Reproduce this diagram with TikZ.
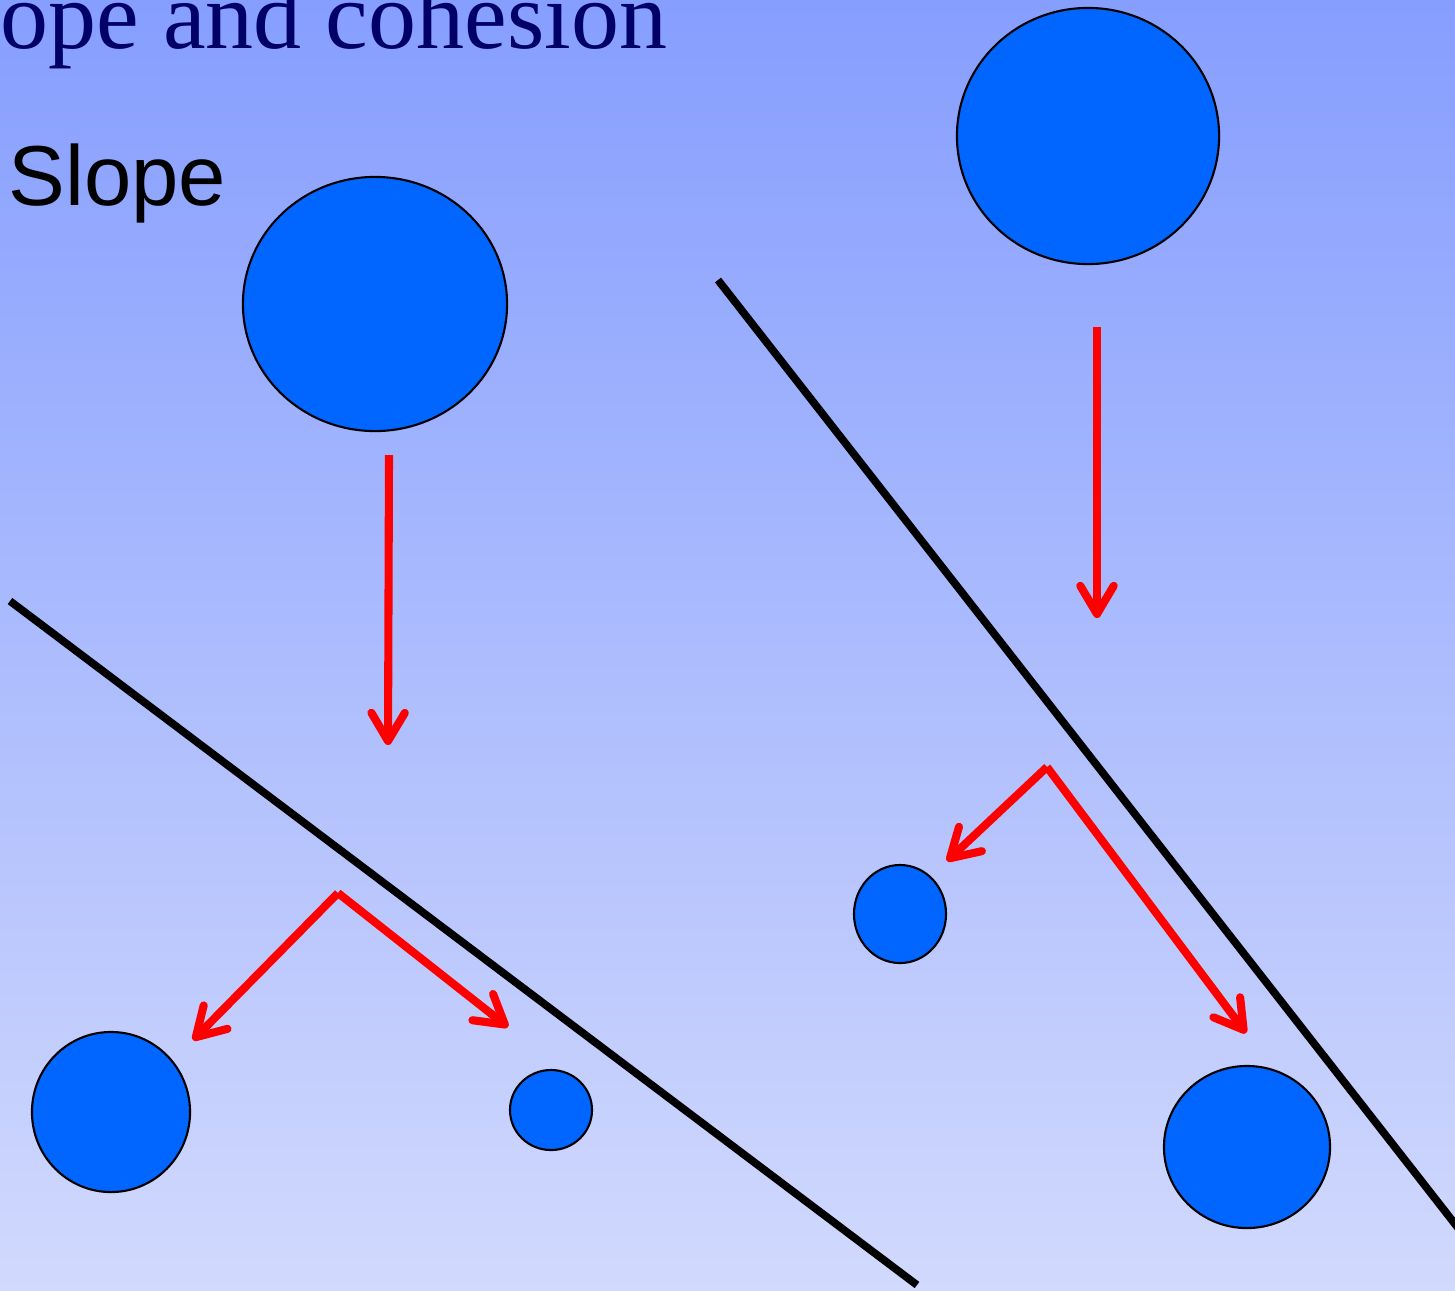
\documentclass[tikz,border=0pt]{standalone}
\usepackage{fontspec}
\usetikzlibrary{shapes.geometric,arrows.meta}
\newfontfamily\titlefont{Liberation Serif}
\newfontfamily\labelfont{Liberation Sans}
\definecolor{bgtop}{RGB}{134,158,254}
\definecolor{bgbot}{RGB}{209,217,253}
\definecolor{ballblue}{RGB}{0,102,255}
\definecolor{titlenavy}{RGB}{0,0,102}
\tikzset{
  ball/.style={ellipse,draw=black,line width=0.6pt,fill=ballblue,inner sep=0pt},
  slopeline/.style={line width=2.2pt,draw=black},
  redarrow/.style={line width=2.3pt,draw=red,-{Straight Barb[length=8pt,width=9.5pt,line cap=round,line join=round]}},
}
\begin{document}
\begin{tikzpicture}[x=0.01cm,y=-0.01cm]
\useasboundingbox (0,0) rectangle (1455,1290);
\clip (0,0) rectangle (1455,1290);
\shade[top color=bgtop,bottom color=bgbot] (0,0) rectangle (1455,1290);
% texts
\node[anchor=base west,inner sep=0pt,text=titlenavy,font=\titlefont\fontsize{27.3}{30}\selectfont] (title) at (0,48) {ope and cohesion};
\node[anchor=base west,inner sep=0pt,text=black,font=\labelfont\fontsize{24.2}{28}\selectfont] (slope) at (8,205) {Slope};
% slope lines
\coordinate (l1a) at (10,601);
\coordinate (l1b) at (917,1285);
\coordinate (l2a) at (718,280);
\coordinate (l2b) at (1462,1233);
\draw[slopeline] (l1a) -- (l1b);
\draw[slopeline] (l2a) -- (l2b);
% balls
\node[ball,minimum width=2.64cm,minimum height=2.54cm] (b1) at (375,304) {};
\node[ball,minimum width=2.62cm,minimum height=2.56cm] (b2) at (1088,136) {};
\node[ball,minimum width=1.58cm,minimum height=1.60cm] (b3) at (111,1112) {};
\node[ball,minimum width=0.82cm,minimum height=0.80cm] (b4) at (551,1110) {};
\node[ball,minimum width=0.92cm,minimum height=0.98cm] (b5) at (900,914) {};
\node[ball,minimum width=1.66cm,minimum height=1.62cm] (b6) at (1247,1147) {};
% arrows
\coordinate (a1s) at (389,455);
\coordinate (a1e) at (388,745);
\coordinate (a2s) at (1097,327);
\coordinate (a2e) at (1097,618);
\coordinate (bs) at (338,893);
\coordinate (b1e) at (193,1040);
\coordinate (b2e) at (508,1027);
\coordinate (cs) at (1047,767);
\coordinate (c1e) at (947,861);
\coordinate (c2e) at (1246,1033);
\draw[redarrow] (a1s) -- (a1e);
\draw[redarrow] (a2s) -- (a2e);
\draw[redarrow] (bs) -- (b1e);
\draw[redarrow] (bs) -- (b2e);
\draw[redarrow] (cs) -- (c1e);
\draw[redarrow] (cs) -- (c2e);
\end{tikzpicture}
\end{document}
